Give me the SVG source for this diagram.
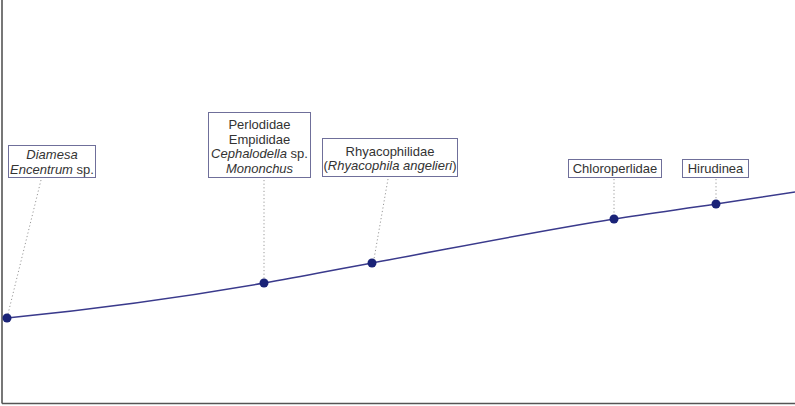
<svg xmlns="http://www.w3.org/2000/svg" width="795" height="406" viewBox="0 0 795 406">
  <style>
    .axis { stroke: #555; stroke-width: 1.6; fill: none; }
    .curve { stroke: #3a3a8c; stroke-width: 1.5; fill: none; }
    .leader { stroke: #9a9a9a; stroke-width: 1; stroke-dasharray: 1.2 2.4; fill: none; }
    .box { fill: #ffffff; stroke: #6f6f9a; stroke-width: 1; }
    .dot { fill: #1a2378; }
    text { font-family: "Liberation Sans", Arial, sans-serif; font-size: 13px; fill: #333; text-anchor: middle; }
    .it { font-style: italic; }
  </style>

  <!-- plot axes -->
  <g id="axes">
    <line class="axis" x1="2" y1="0" x2="2" y2="403.5"/>
    <line class="axis" x1="2" y1="403.5" x2="795" y2="403.5"/>
  </g>

  <!-- dotted leaders from labels to curve points -->
  <g id="connectors">
    <line class="leader" x1="41" y1="180" x2="8" y2="314"/>
    <line class="leader" x1="264" y1="180" x2="264" y2="279"/>
    <line class="leader" x1="388" y1="179" x2="374" y2="259"/>
    <line class="leader" x1="614" y1="179" x2="614" y2="215"/>
    <line class="leader" x1="716" y1="179" x2="716" y2="200"/>
  </g>

  <!-- fitted curve -->
  <g id="curve">
    <path class="curve" d="M7,318 C92.7,309.4 178.3,298 264,283 C300,276.7 336,269.6 372,263 C452.7,248.2 533.3,231.9 614,219 C648,213.6 682,209.1 716,204 C742.3,200.1 768.7,195.9 795,192"/>
  </g>

  <g id="point-diamesa">
    <circle class="dot" cx="7" cy="318" r="4.5"/>
    <rect class="box" x="8.5" y="145.5" width="87" height="32"/>
    <text x="52" y="159" class="it">Diamesa</text>
    <text x="52" y="174"><tspan class="it">Encentrum</tspan> sp.</text>
  </g>

  <g id="point-perlodidae">
    <circle class="dot" cx="264" cy="283" r="4.5"/>
    <rect class="box" x="208.5" y="112.5" width="102" height="65"/>
    <text x="259.5" y="129">Perlodidae</text>
    <text x="259.5" y="143.5">Empididae</text>
    <text x="259.5" y="158"><tspan class="it">Cephalodella</tspan> sp.</text>
    <text x="259.5" y="172.5" class="it">Mononchus</text>
  </g>

  <g id="point-rhyacophilidae">
    <circle class="dot" cx="372" cy="263" r="4.5"/>
    <rect class="box" x="322.5" y="138.5" width="135" height="38"/>
    <text x="390" y="155.5">Rhyacophilidae</text>
    <text x="390" y="170">(<tspan class="it">Rhyacophila angelieri</tspan>)</text>
  </g>

  <g id="point-chloroperlidae">
    <circle class="dot" cx="614" cy="219" r="4.5"/>
    <rect class="box" x="568.5" y="159.5" width="93" height="18"/>
    <text x="615" y="172.5">Chloroperlidae</text>
  </g>

  <g id="point-hirudinea">
    <circle class="dot" cx="716" cy="204" r="4.5"/>
    <rect class="box" x="682.5" y="159.5" width="66" height="18"/>
    <text x="715.5" y="172.5">Hirudinea</text>
  </g>
</svg>
